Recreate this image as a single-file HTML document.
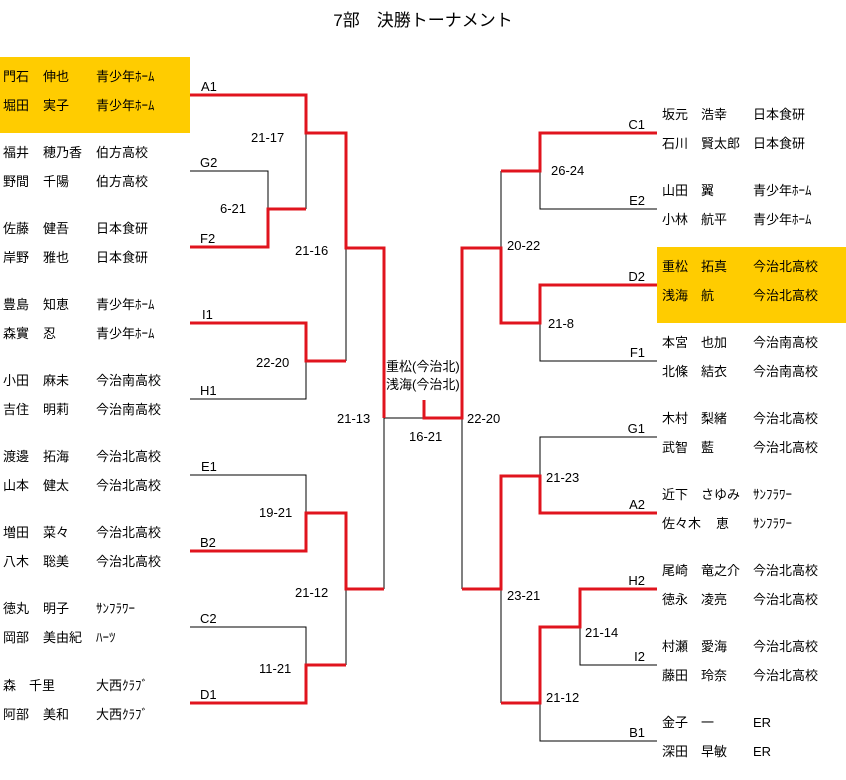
<!DOCTYPE html>
<html><head><meta charset="utf-8"><style>
body{margin:0;background:#fff;}
svg{display:block;}
text{font-family:"Liberation Sans","Noto Sans CJK JP",sans-serif;font-size:13px;fill:#000;}
.r{stroke:#e0141e;stroke-width:3;fill:none;}
.b{stroke:#000;stroke-width:1;fill:none;}
</style></head><body>
<svg width="846" height="780" viewBox="0 0 846 780" xmlns="http://www.w3.org/2000/svg">
<text x="423" y="26" text-anchor="middle" style="font-size:17px">7部　決勝トーナメント</text>
<rect x="0" y="57" width="190" height="76" fill="#ffcc00"/>
<rect x="657" y="247" width="189" height="76" fill="#ffcc00"/>

<!-- left names -->
<g>
<text x="3" y="81">門石</text><text x="43" y="81">伸也</text><text x="96" y="81">青少年ﾎｰﾑ</text>
<text x="3" y="110">堀田</text><text x="43" y="110">実子</text><text x="96" y="110">青少年ﾎｰﾑ</text>
<text x="3" y="157">福井</text><text x="43" y="157">穂乃香</text><text x="96" y="157">伯方高校</text>
<text x="3" y="186">野間</text><text x="43" y="186">千陽</text><text x="96" y="186">伯方高校</text>
<text x="3" y="233">佐藤</text><text x="43" y="233">健吾</text><text x="96" y="233">日本食研</text>
<text x="3" y="262">岸野</text><text x="43" y="262">雅也</text><text x="96" y="262">日本食研</text>
<text x="3" y="309">豊島</text><text x="43" y="309">知恵</text><text x="96" y="309">青少年ﾎｰﾑ</text>
<text x="3" y="338">森實</text><text x="43" y="338">忍</text><text x="96" y="338">青少年ﾎｰﾑ</text>
<text x="3" y="385">小田</text><text x="43" y="385">麻未</text><text x="96" y="385">今治南高校</text>
<text x="3" y="414">吉住</text><text x="43" y="414">明莉</text><text x="96" y="414">今治南高校</text>
<text x="3" y="461">渡邊</text><text x="43" y="461">拓海</text><text x="96" y="461">今治北高校</text>
<text x="3" y="490">山本</text><text x="43" y="490">健太</text><text x="96" y="490">今治北高校</text>
<text x="3" y="537">増田</text><text x="43" y="537">菜々</text><text x="96" y="537">今治北高校</text>
<text x="3" y="566">八木</text><text x="43" y="566">聡美</text><text x="96" y="566">今治北高校</text>
<text x="3" y="613">徳丸</text><text x="43" y="613">明子</text><text x="96" y="613">ｻﾝﾌﾗﾜｰ</text>
<text x="3" y="642">岡部</text><text x="43" y="642">美由紀</text><text x="96" y="642">ﾊｰﾂ</text>
<text x="3" y="690">森</text><text x="29" y="690">千里</text><text x="96" y="690">大西ｸﾗﾌﾞ</text>
<text x="3" y="719">阿部</text><text x="43" y="719">美和</text><text x="96" y="719">大西ｸﾗﾌﾞ</text>
</g>
<!-- right names -->
<g>
<text x="662" y="119">坂元</text><text x="701" y="119">浩幸</text><text x="753" y="119">日本食研</text>
<text x="662" y="148">石川</text><text x="701" y="148">賢太郎</text><text x="753" y="148">日本食研</text>
<text x="662" y="195">山田</text><text x="701" y="195">翼</text><text x="753" y="195">青少年ﾎｰﾑ</text>
<text x="662" y="224">小林</text><text x="701" y="224">航平</text><text x="753" y="224">青少年ﾎｰﾑ</text>
<text x="662" y="271">重松</text><text x="701" y="271">拓真</text><text x="753" y="271">今治北高校</text>
<text x="662" y="300">浅海</text><text x="701" y="300">航</text><text x="753" y="300">今治北高校</text>
<text x="662" y="347">本宮</text><text x="701" y="347">也加</text><text x="753" y="347">今治南高校</text>
<text x="662" y="376">北條</text><text x="701" y="376">結衣</text><text x="753" y="376">今治南高校</text>
<text x="662" y="423">木村</text><text x="701" y="423">梨緒</text><text x="753" y="423">今治北高校</text>
<text x="662" y="452">武智</text><text x="701" y="452">藍</text><text x="753" y="452">今治北高校</text>
<text x="662" y="499">近下</text><text x="701" y="499">さゆみ</text><text x="753" y="499">ｻﾝﾌﾗﾜｰ</text>
<text x="662" y="528">佐々木</text><text x="716" y="528">恵</text><text x="753" y="528">ｻﾝﾌﾗﾜｰ</text>
<text x="662" y="575">尾崎</text><text x="701" y="575">竜之介</text><text x="753" y="575">今治北高校</text>
<text x="662" y="604">徳永</text><text x="701" y="604">凌亮</text><text x="753" y="604">今治北高校</text>
<text x="662" y="651">村瀬</text><text x="701" y="651">愛海</text><text x="753" y="651">今治北高校</text>
<text x="662" y="680">藤田</text><text x="701" y="680">玲奈</text><text x="753" y="680">今治北高校</text>
<text x="662" y="727">金子</text><text x="701" y="727">一</text><text x="753" y="727">ER</text>
<text x="662" y="756">深田</text><text x="701" y="756">早敏</text><text x="753" y="756">ER</text>
</g>

<!-- black lines -->
<path class="b" d="M190 171H268V209 M306 133V209 M346 248V361 M190 399H306V361 M190 475H306V513 M346 589V665 M190 627H306V665 M384 418V589 M384 418H424 M462 418V589
M501 171V248 M540 171V209H657 M540 323V361H657 M657 437H540V476 M501 589V703 M580 627V665H657 M540 703V741H657"/>
<!-- red lines -->
<path class="r" d="M190 95H306V133H346V248H384V418 M190 247H268V209H306 M190 323H306V361H346 M190 551H306V513H346V589H384 M190 703H306V665H346
M424 400V418H462V248H501V323H540V285H657 M501 171H540V133H657 M462 589H501V476H540V513H657 M501 703H540V627H580V589H657"/>

<!-- line labels -->
<g style="font-size:12px">
<text x="201" y="91">A1</text><text x="200" y="167">G2</text><text x="200" y="243">F2</text><text x="202" y="319">I1</text><text x="200" y="395">H1</text>
<text x="201" y="471">E1</text><text x="200" y="547">B2</text><text x="200" y="623">C2</text><text x="200" y="699">D1</text>
<text x="645" y="129" text-anchor="end">C1</text><text x="645" y="205" text-anchor="end">E2</text><text x="645" y="281" text-anchor="end">D2</text><text x="645" y="357" text-anchor="end">F1</text>
<text x="645" y="433" text-anchor="end">G1</text><text x="645" y="509" text-anchor="end">A2</text><text x="645" y="585" text-anchor="end">H2</text><text x="645" y="661" text-anchor="end">I2</text><text x="645" y="737" text-anchor="end">B1</text>
</g>
<!-- scores -->
<text x="251" y="142">21-17</text><text x="220" y="213">6-21</text><text x="295" y="255">21-16</text><text x="256" y="367">22-20</text>
<text x="337" y="423">21-13</text><text x="259" y="517">19-21</text><text x="295" y="597">21-12</text><text x="259" y="673">11-21</text>
<text x="409" y="441">16-21</text><text x="467" y="423">22-20</text>
<text x="551" y="175">26-24</text><text x="507" y="250">20-22</text><text x="548" y="328">21-8</text>
<text x="546" y="482">21-23</text><text x="507" y="600">23-21</text><text x="585" y="637">21-14</text><text x="546" y="702">21-12</text>
<text x="386" y="371">重松(今治北)</text><text x="386" y="389">浅海(今治北)</text>
</svg>
</body></html>
